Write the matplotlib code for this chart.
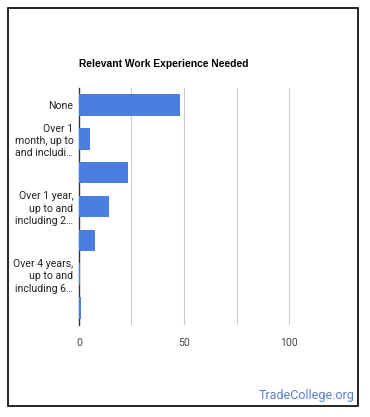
import matplotlib.pyplot as plt
from matplotlib.patches import Rectangle

# data
categories = ['None',
              'Over 1 month, up to and including 3 months',
              'Over 3 months, up to and including 1 year',
              'Over 1 year, up to and including 2 years',
              'Over 2 years, up to and including 4 years',
              'Over 4 years, up to and including 6 years',
              'Over 6 years, up to and including 8 years']
tick_labels = ['None', 'Over 1\nmonth, up to\nand includi…', '',
               'Over 1 year,\nup to and\nincluding 2…', '',
               'Over 4 years,\nup to and\nincluding 6…', '']
values = [48.1, 5.1, 23.3, 14.3, 7.6, 0.7, 1.0]
x_ticks = [0, 50, 100]

fig = plt.figure(figsize=(3.7, 4.17), dpi=100)
ax = fig.add_axes([0.2135, 0.2206, 0.7095, 0.5684])

pos = list(range(len(categories)))
ax.barh(pos, values, height=0.64, color='#4a7fdf', zorder=3)
ax.set_ylim(len(categories) - 0.5, -0.5)
ax.set_xlim(0, 125)

# grid lines at 25, 50, 75, 100
for g in [25, 50, 75, 100]:
    ax.axvline(g, color='#cccccc', lw=0.8, zorder=1)

ax.set_xticks(x_ticks)
ax.set_xticklabels([str(t) for t in x_ticks], fontsize=7.5, color='#444444',
                   family='Roboto')
ax.tick_params(axis='x', length=0, pad=9)
ax.set_yticks(pos)
ax.set_yticklabels(tick_labels, fontsize=7.6, color='#222222',
                   family='Roboto', linespacing=1.3)
ax.tick_params(axis='y', length=0, pad=4)

for s in ['top', 'right', 'bottom']:
    ax.spines[s].set_visible(False)
ax.spines['left'].set_color('#333333')
ax.spines['left'].set_linewidth(1)

fig.text(79 / 370, 1 - 64 / 417, 'Relevant Work Experience Needed',
         fontsize=7.4, fontweight='bold', family='Liberation Sans',
         va='center', ha='left', color='#000000')
fig.text(355 / 370, 1 - 395 / 417, 'TradeCollege.org', fontsize=9,
         family='Roboto', color='#5a7fcc', ha='right', va='center')

fig.patches.append(Rectangle((8 / 370, 1 - 406 / 417), 350 / 370, 398 / 417,
                             transform=fig.transFigure, fill=False,
                             edgecolor='black', lw=1.2))

fig.savefig('out.png', dpi=100)
